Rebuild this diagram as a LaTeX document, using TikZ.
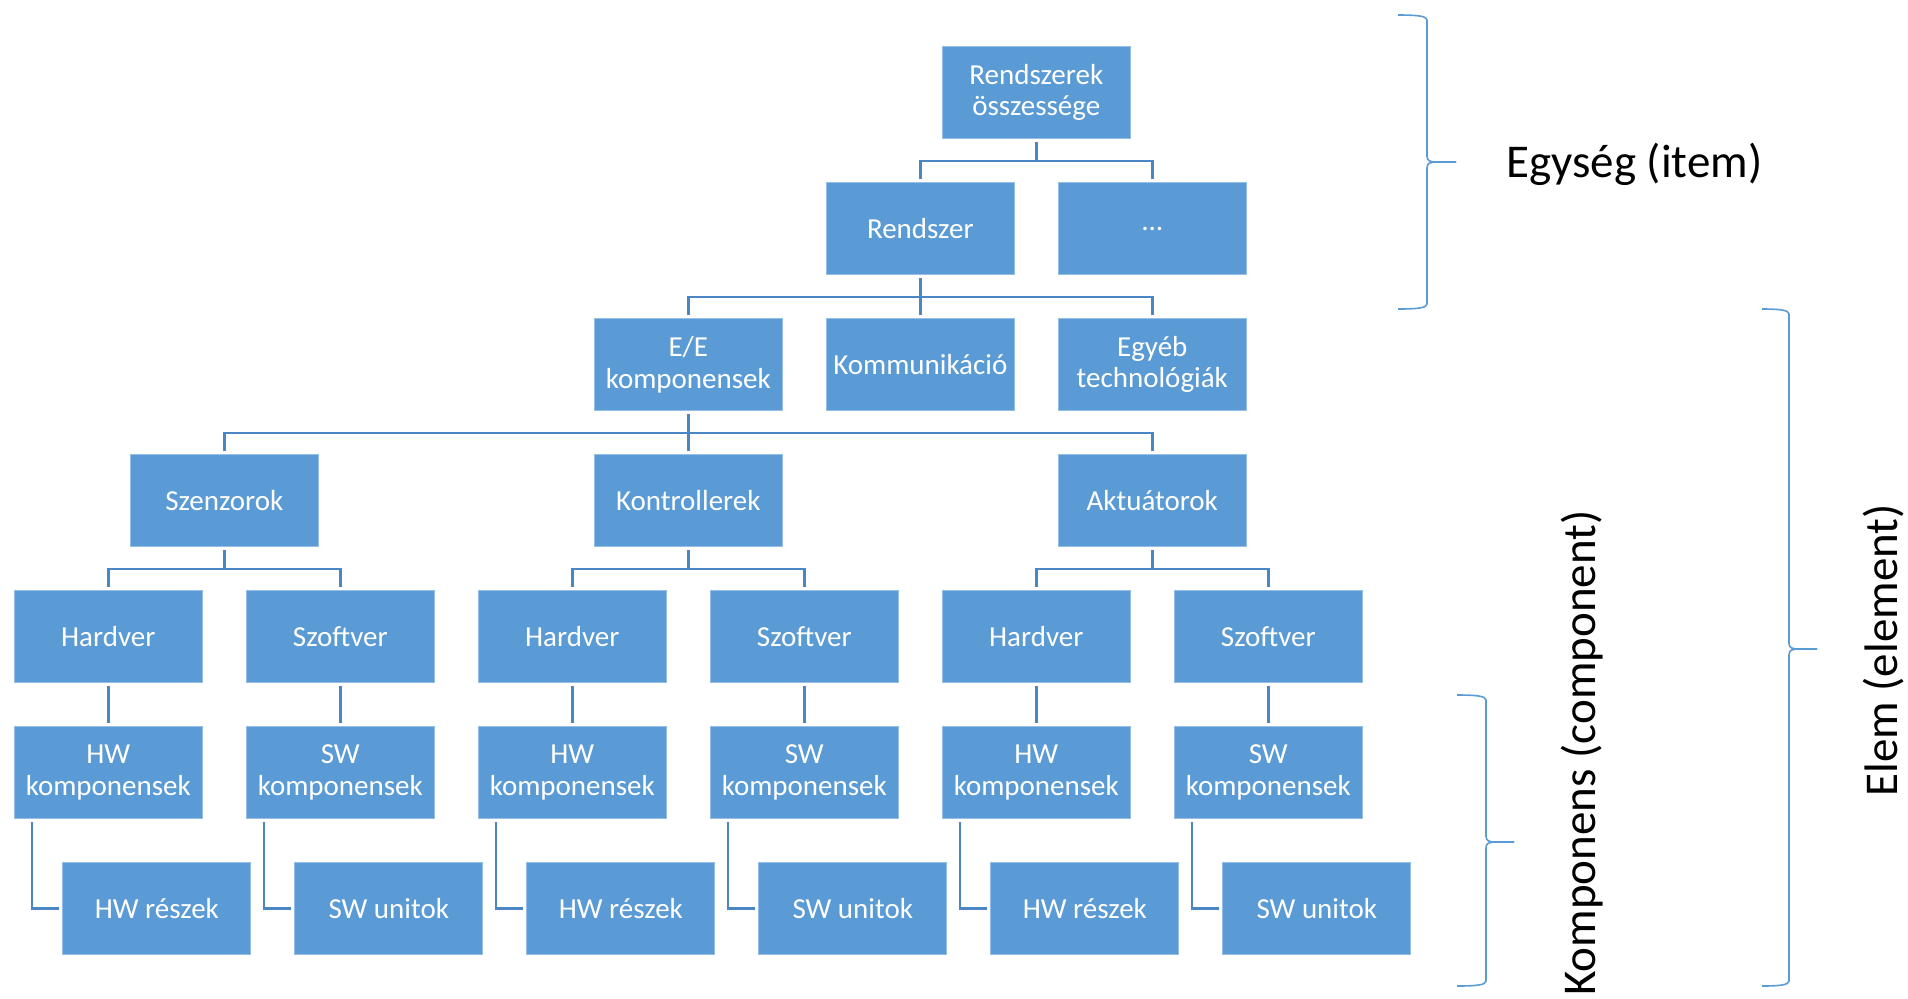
\documentclass[tikz,border=0pt]{standalone}
\usepackage{fontspec}
\setmainfont{Carlito}
\definecolor{boxblue}{HTML}{5B9BD5}
\definecolor{lineblue}{HTML}{4A86C4}
\newcommand{\drawcurlybr}[6]{%
 \draw[bracestyle] (#1,#4) .. controls ({#2-10},#4) and (#2,{#4+1}) .. (#2,{#4+5}) -- (#2,{#5-6}) .. controls (#2,{#5-1}) and ({#2+3},#5) .. ({#2+10},#5) -- (#3,#5);
 \draw[bracestyle] (#3,#5) -- ({#2+10},#5) .. controls ({#2+3},#5) and (#2,{#5+1}) .. (#2,{#5+6}) -- (#2,{#6-5}) .. controls (#2,{#6-1}) and ({#2-10},#6) .. (#1,#6);
}
\begin{document}
\begin{tikzpicture}[x=0.5pt,y=-0.5pt,
  bx/.style={rectangle, fill=boxblue, draw=white!35!boxblue, line width=0.4pt,
    minimum width=94pt, minimum height=46.25pt, inner sep=0pt, align=center,
    text=white, font=\fontsize{14.5}{15.9}\selectfont},
  conn/.style={draw=lineblue, line width=1.35pt, shorten <=1.5pt, shorten >=1.5pt},
  bracestyle/.style={draw=boxblue, line width=0.8pt},
  lbl/.style={font=\fontsize{23.5}{28}\selectfont, text=black, inner sep=0pt}]
\useasboundingbox (0,0) rectangle (1908,998);

% level 1-3
\node[bx] (top) at (1036.3,92.5) {Rendszerek\\összessége};
\node[bx] (rend) at (920.3,228.5) {Rendszer};
\node[bx] (dots) at (1152.3,228.5) {…};
\node[bx] (ee) at (688.3,364.5) {E/E\\komponensek};
\node[bx] (komm) at (920.3,364.5) {Kommunikáció};
\node[bx] (egyeb) at (1152.3,364.5) {Egyéb\\technológiák};
% level 4
\node[bx] (szen) at (224.3,500.5) {Szenzorok};
\node[bx] (kont) at (688.3,500.5) {Kontrollerek};
\node[bx] (akt) at (1152.3,500.5) {Aktuátorok};
% level 5
\node[bx] (hw1) at (108.3,636.5) {Hardver};
\node[bx] (sw1) at (340.3,636.5) {Szoftver};
\node[bx] (hw2) at (572.3,636.5) {Hardver};
\node[bx] (sw2) at (804.3,636.5) {Szoftver};
\node[bx] (hw3) at (1036.3,636.5) {Hardver};
\node[bx] (sw3) at (1268.3,636.5) {Szoftver};
% level 6
\node[bx] (hwk1) at (108.3,772.5) {HW\\komponensek};
\node[bx] (swk1) at (340.3,772.5) {SW\\komponensek};
\node[bx] (hwk2) at (572.3,772.5) {HW\\komponensek};
\node[bx] (swk2) at (804.3,772.5) {SW\\komponensek};
\node[bx] (hwk3) at (1036.3,772.5) {HW\\komponensek};
\node[bx] (swk3) at (1268.3,772.5) {SW\\komponensek};
% level 7
\node[bx] (hwr1) at (156.8,908.5) {HW részek};
\node[bx] (swu1) at (388.8,908.5) {SW unitok};
\node[bx] (hwr2) at (620.8,908.5) {HW részek};
\node[bx] (swu2) at (852.8,908.5) {SW unitok};
\node[bx] (hwr3) at (1084.8,908.5) {HW részek};
\node[bx] (swu3) at (1316.8,908.5) {SW unitok};

% connectors
\foreach \p/\c in {top/rend, top/dots, rend/ee, rend/komm, rend/egyeb,
  ee/szen, ee/kont, ee/akt, szen/hw1, szen/sw1, kont/hw2, kont/sw2, akt/hw3, akt/sw3,
  hw1/hwk1, sw1/swk1, hw2/hwk2, sw2/swk2, hw3/hwk3, sw3/swk3}
  \draw[conn] (\p.south) -- ++(0,21.75) -| (\c.north);
\foreach \p/\c in {hwk1/hwr1, swk1/swu1, hwk2/hwr2, swk2/swu2, hwk3/hwr3, swk3/swu3}
  \draw[conn] ([xshift=9pt]\p.south west) |- (\c.west);

% braces
\drawcurlybr{1398}{1427}{1456}{15}{162}{309}
\drawcurlybr{1762}{1789}{1817}{309}{649}{986}
\drawcurlybr{1457}{1486}{1514}{695}{842}{986}

% labels
\node[lbl, anchor=base west] (egy) at (1506,177) {Egység (item)};
\node[lbl, anchor=base west, rotate=90] (komp) at (1595,996) {Komponens (component)};
\node[lbl, anchor=base west, rotate=90] (elem) at (1897,797) {Elem (element)};
\end{tikzpicture}
\end{document}
